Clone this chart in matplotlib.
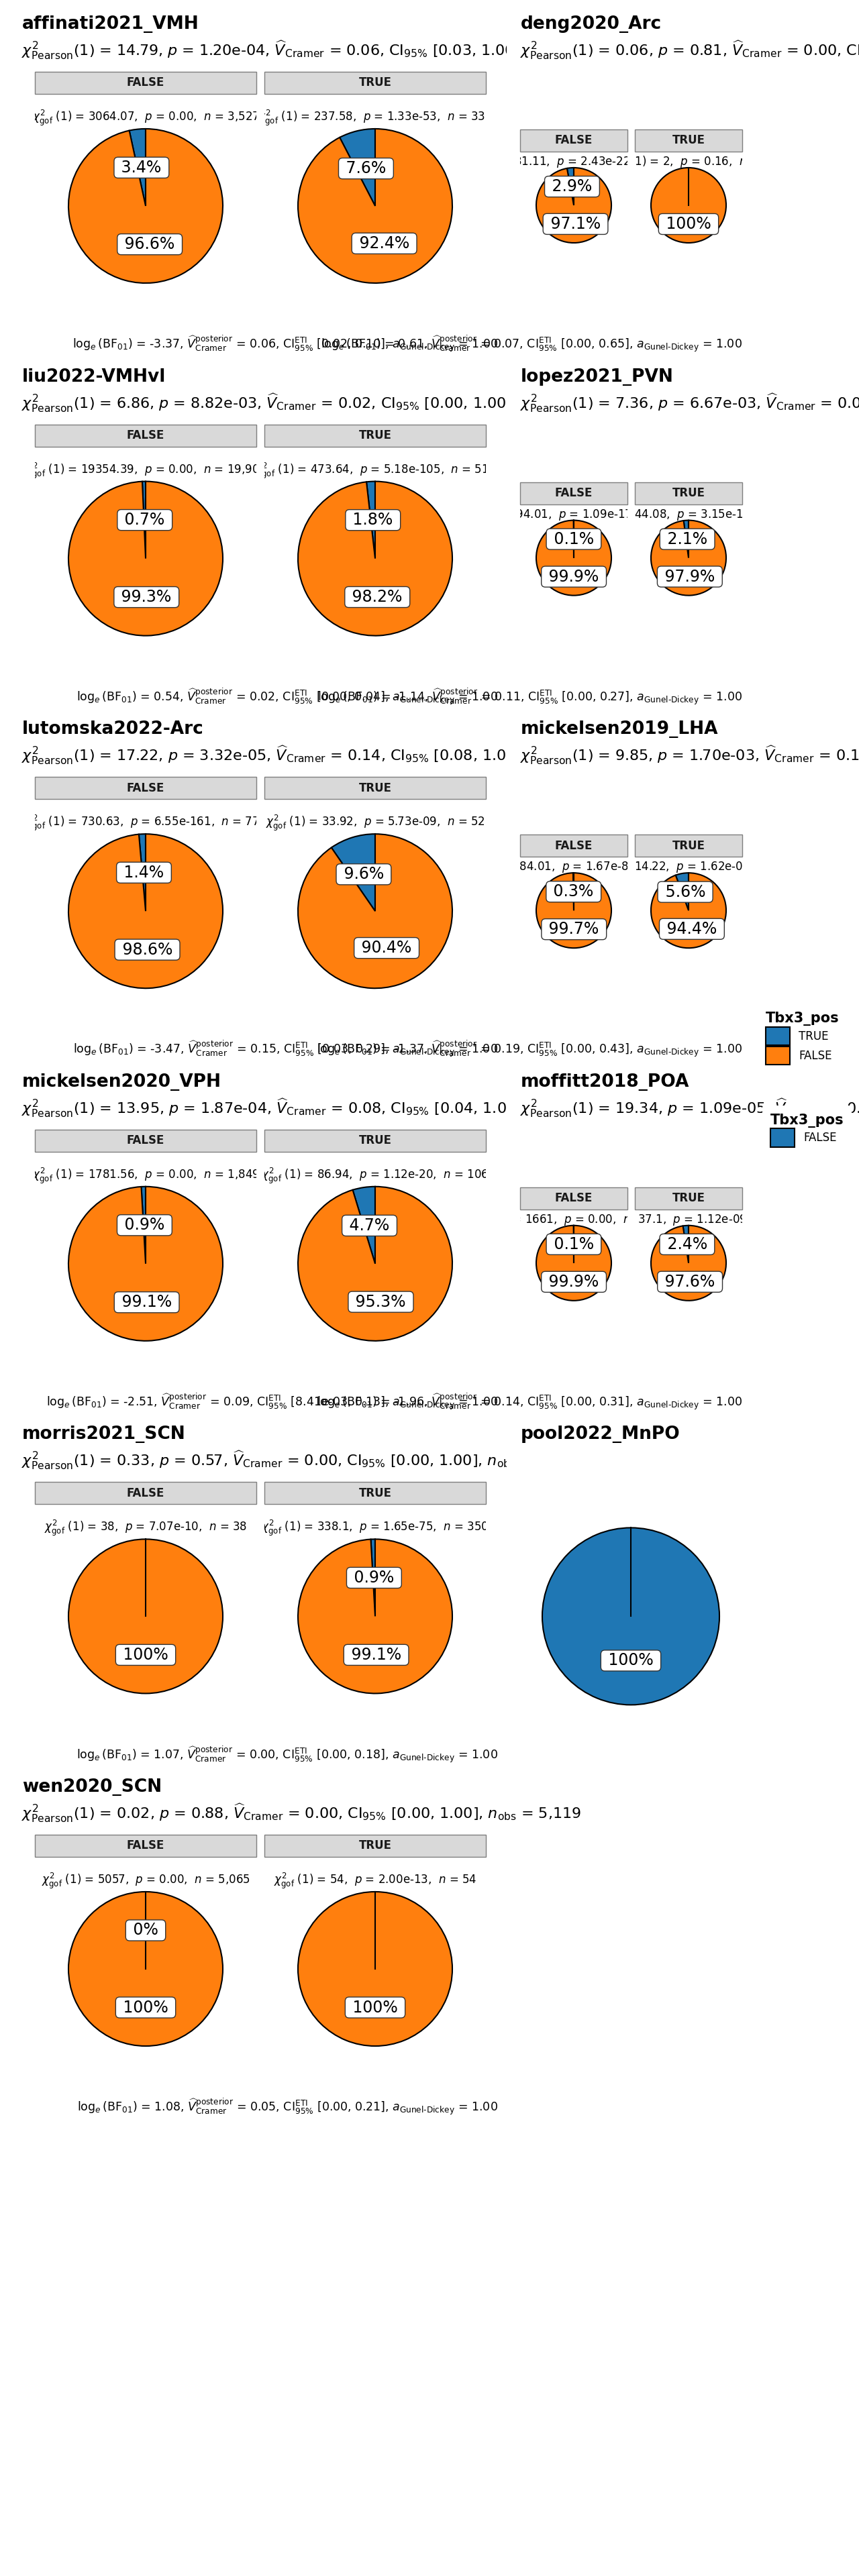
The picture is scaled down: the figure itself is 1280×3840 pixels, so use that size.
import matplotlib

matplotlib.use("Agg")

import matplotlib.pyplot as plt
import numpy as np
from matplotlib.patches import Patch, Rectangle
from matplotlib.transforms import Bbox, TransformedBbox

W, H = 1280, 3840
ROW_STEP = 525.6
START_ANGLE = 90

PALETTE = ["#1F77B4", "#FF7F0E"]

DATASETS = [
    "affinati2021_VMH", "deng2020_Arc", "liu2022-VMHvl", "lopez2021_PVN",
    "lutomska2022-Arc", "mickelsen2019_LHA", "mickelsen2020_VPH", "moffitt2018_POA",
    "morris2021_SCN", "pool2022_MnPO", "wen2020_SCN",
]
FACETS = ["FALSE", "TRUE"]
LEVELS = [["TRUE", "FALSE"]] * 9 + [["FALSE"]] + [["TRUE", "FALSE"]]

# Pearson test (subtitle)
CHI2_PEARSON = ["14.79", "0.06", "6.86", "7.36", "17.22", "9.85", "13.95", "19.34", "0.33", None, "0.02"]
P_PEARSON = ["1.20e-04", "0.81", "8.82e-03", "6.67e-03", "3.32e-05", "1.70e-03", "1.87e-04", "1.09e-05", "0.57", None, "0.88"]
V_CRAMER = ["0.06", "0.00", "0.02", "0.09", "0.14", "0.15", "0.08", "0.10", "0.00", None, "0.00"]
CI_CRAMER = ["[0.03, 1.00]", "[0.00, 1.00]", "[0.00, 1.00]", "[0.03, 1.00]", "[0.08, 1.00]",
             "[0.06, 1.00]", "[0.04, 1.00]", "[0.07, 1.00]", "[0.00, 1.00]", None, "[0.00, 1.00]"]
N_OBS = ["3,857", "1,164", "20,418", "846", "826", "406", "1,955", "1,706", "388", None, "5,119"]

# Bayesian test (caption)
BF_LOG = ["-3.37", "0.61", "0.54", "-1.14", "-3.47", "-1.37", "-2.51", "-1.96", "1.07", None, "1.08"]
V_POSTERIOR = ["0.06", "0.07", "0.02", "0.11", "0.15", "0.19", "0.09", "0.14", "0.00", None, "0.05"]
CI_ETI = ["[0.02, 0.10]", "[0.00, 0.65]", "[0.00, 0.04]", "[0.00, 0.27]", "[0.03, 0.29]",
          "[0.00, 0.43]", "[8.41e-03, 0.13]", "[0.00, 0.31]", "[0.00, 0.18]", None, "[0.00, 0.21]"]
A_GUNEL_DICKEY = "1.00"

# goodness of fit per facet: (chi2, p, n)
GOF_FALSE = [("3064.07", "0.00", "3,527"), ("1031.11", "2.43e-226", "1,162"), ("19354.39", "0.00", "19,908"),
             ("794.01", "1.09e-174", "798"), ("730.63", "6.55e-161", "774"), ("384.01", "1.67e-85", "388"),
             ("1781.56", "0.00", "1,849"), ("1661", "0.00", "1,665"), ("38", "7.07e-10", "38"), None,
             ("5057", "0.00", "5,065")]
GOF_TRUE = [("237.58", "1.33e-53", "330"), ("2", "0.16", "2"), ("473.64", "5.18e-105", "510"),
            ("44.08", "3.15e-11", "48"), ("33.92", "5.73e-09", "52"), ("14.22", "1.62e-04", "18"),
            ("86.94", "1.12e-20", "106"), ("37.1", "1.12e-09", "41"), ("338.1", "1.65e-75", "350"), None,
            ("54", "2.00e-13", "54")]

# percentages of Tbx3_pos [TRUE, FALSE] within each facet (None = level absent)
PCT_FALSE = [[3.4, 96.6], [2.9, 97.1], [0.7, 99.3], [0.1, 99.9], [1.4, 98.6], [0.3, 99.7],
             [0.9, 99.1], [0.1, 99.9], [None, 100], None, [0, 100]]
PCT_TRUE = [[7.6, 92.4], [None, 100], [1.8, 98.2], [2.1, 97.9], [9.6, 90.4], [5.6, 94.4],
            [4.7, 95.3], [2.4, 97.6], [0.9, 99.1], None, [None, 100]]
POOL_PCT = [100]

LEFT = dict(title_x=33, strips=[(52, 382), (394, 724)], strip_y=(107, 140), gof_base=180,
            pie_cx=[217, 559], pie_cy=307, r=115, caption_right=742)
RIGHT = dict(title_x=776, strips=[(775, 935), (946, 1106)], strip_y=(193, 226), gof_base=247,
             pie_cx=[855, 1026], pie_cy=306, r=56, caption_right=1106)


def fx(x):
    return x / W


def fy(y):
    return 1 - y / H


def clip_box(fig, x0, x1):
    return TransformedBbox(Bbox.from_extents(fx(x0), 0, fx(x1), 1), fig.transFigure)


def draw_pie(fig, cx, cy, r, pcts, colors):
    pad = 1.03
    ax = fig.add_axes([fx(cx - r * pad), fy(cy + r * pad), 2 * r * pad / W, 2 * r * pad / H])
    _, _, autotexts = ax.pie(
        pcts,
        colors=colors,
        startangle=START_ANGLE,
        counterclock=True,
        autopct=lambda v: f" {round(v, 1):g}% ",
        pctdistance=0.5,
        wedgeprops={"edgecolor": "black", "linewidth": 1.5},
        textprops={"fontsize": 17},
    )
    for t in autotexts:
        t.set_bbox({"boxstyle": "round,pad=0.15,rounding_size=0.25", "fc": "white", "ec": "#333333", "lw": 1})
    if max(pcts) == sum(pcts):
        a = np.deg2rad(START_ANGLE)
        ax.plot([0, np.cos(a)], [0, np.sin(a)], color="black", lw=1.5)
    ax.set_xlim(-pad, pad)
    ax.set_ylim(-pad, pad)
    ax.set_aspect("equal")
    ax.axis("off")


def subtitle_text(i):
    return (rf"$\chi^2_{{\mathrm{{Pearson}}}}$(1) = {CHI2_PEARSON[i]}, $p$ = {P_PEARSON[i]}, "
            rf"$\widehat{{V}}_{{\mathrm{{Cramer}}}}$ = {V_CRAMER[i]}, CI$_{{95\%}}$ {CI_CRAMER[i]}, "
            rf"$n_{{\mathrm{{obs}}}}$ = {N_OBS[i]}")


def caption_text(i):
    return (rf"$\log_{{e}}(\mathrm{{BF}}_{{01}})$ = {BF_LOG[i]}, "
            rf"$\widehat{{V}}^{{\mathrm{{posterior}}}}_{{\mathrm{{Cramer}}}}$ = {V_POSTERIOR[i]}, "
            rf"$\mathrm{{CI}}^{{\mathrm{{ETI}}}}_{{95\%}}$ {CI_ETI[i]}, "
            rf"$a_{{\mathrm{{Gunel‐Dickey}}}}$ = {A_GUNEL_DICKEY}")


def gof_text(g):
    chi2, p, n = g
    return rf"$\chi^2_{{\mathrm{{gof}}}}$ (1) = {chi2},  $p$ = {p},  $n$ = {n}"


def main():
    fig = plt.figure(figsize=(W / 100, H / 100), dpi=100)

    for i, name in enumerate(DATASETS):
        row, col = divmod(i, 2)
        top = row * ROW_STEP
        g = LEFT if col == 0 else RIGHT
        fig.text(fx(g["title_x"]), fy(top + 43), name, fontsize=19, fontweight="bold", va="baseline")
        colors = {lev: PALETTE[k] for k, lev in enumerate(LEVELS[i])}

        if CHI2_PEARSON[i] is None:
            draw_pie(fig, 940, top + 307, 132, POOL_PCT, [colors["FALSE"]])
            continue

        sub = fig.text(fx(g["title_x"] - 1), fy(top + 83), subtitle_text(i), fontsize=16, va="baseline")
        if col == 0 and i < len(DATASETS) - 1:
            sub.set_clip_box(clip_box(fig, 0, 755))

        for k, facet in enumerate(FACETS):
            x0, x1 = g["strips"][k]
            y0, y1 = g["strip_y"]
            fig.add_artist(Rectangle((fx(x0), fy(top + y1)), fx(x1) - fx(x0), (y1 - y0) / H,
                                     transform=fig.transFigure, facecolor="#D9D9D9",
                                     edgecolor="#7F7F7F", linewidth=1))
            fig.text(fx((x0 + x1) / 2), fy(top + (y0 + y1) / 2), facet, fontsize=12,
                     fontweight="bold", color="#1A1A1A", ha="center", va="center")

            gof = GOF_FALSE[i] if facet == "FALSE" else GOF_TRUE[i]
            t = fig.text(fx((x0 + x1) / 2), fy(top + g["gof_base"]), gof_text(gof), fontsize=12,
                         ha="center", va="baseline")
            t.set_clip_box(clip_box(fig, x0, x1))

            pct = PCT_FALSE[i] if facet == "FALSE" else PCT_TRUE[i]
            vals = [v for v in pct if v is not None]
            cols = [colors[lev] for lev, v in zip(["TRUE", "FALSE"], pct) if v is not None]
            draw_pie(fig, g["pie_cx"][k], top + g["pie_cy"], g["r"], vals, cols)

        fig.text(fx(g["caption_right"]), fy(top + 519), caption_text(i), fontsize=12.5,
                 ha="right", va="baseline")

    legend_style = dict(
        loc="upper left",
        frameon=True,
        facecolor="white",
        edgecolor="none",
        framealpha=1,
        fontsize=12,
        title="Tbx3_pos",
        title_fontproperties={"weight": "bold", "size": 15},
        alignment="left",
        handlelength=2.16,
        handleheight=2.16,
        labelspacing=0.1,
        handletextpad=0.8,
        borderaxespad=0,
    )
    handles_1 = [Patch(facecolor=PALETTE[0], edgecolor="black", linewidth=1.5, label="TRUE"),
                 Patch(facecolor=PALETTE[1], edgecolor="black", linewidth=1.5, label="FALSE")]
    fig.legend(handles=handles_1, bbox_to_anchor=(fx(1136), fy(1503)), borderpad=0.3, **legend_style)
    handles_2 = [Patch(facecolor=PALETTE[0], edgecolor="black", linewidth=1.5, label="FALSE")]
    fig.legend(handles=handles_2, bbox_to_anchor=(fx(1136), fy(1648)), borderpad=0.7, **legend_style)

    fig.savefig("out.png", dpi=100, facecolor="white")
    plt.close(fig)


if __name__ == "__main__":
    main()
